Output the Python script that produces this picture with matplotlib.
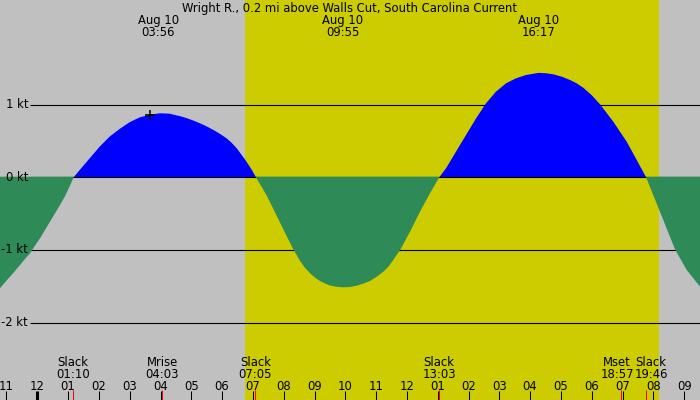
import matplotlib
matplotlib.use("Agg")
import matplotlib.pyplot as plt
import numpy as np
from matplotlib import font_manager
from matplotlib.transforms import blended_transform_factory

# ---------------- data ----------------
title = "Wright R., 0.2 mi above Walls Cut, South Carolina Current"

# current curve (hours since 00:00 Aug 10, knots)
hours = [-1.211, -1.049, -0.886, -0.724, -0.562, -0.40, -0.237, -0.075, 0.088,
         0.25, 0.412, 0.575, 0.737, 0.90, 1.05, 1.18,
         1.386, 1.711, 2.036, 2.36, 2.685, 3.010, 3.334, 3.659, 3.984, 4.308,
         4.416, 4.63, 4.851, 5.065, 5.282, 5.50, 5.714, 5.93, 6.149, 6.31,
         6.474, 6.744, 6.961, 7.10,
         7.448, 7.773, 8.097, 8.292, 8.529, 8.69, 8.854, 9.016, 9.179, 9.34,
         9.503, 9.72, 9.917, 10.15, 10.370, 10.58, 10.802, 11.02, 11.234, 11.40,
         11.558, 11.799, 12.101, 12.425, 12.75, 13.05,
         13.27, 13.594, 13.919, 14.244, 14.568, 14.89, 15.217, 15.542, 15.867,
         16.19, 16.283, 16.54, 16.753, 17.03, 17.295, 17.513, 17.727, 18.0,
         18.270, 18.701, 19.136, 19.461, 19.767,
         20.217, 20.704, 21.084, 21.516]
knots = [-1.527, -1.445, -1.368, -1.289, -1.207, -1.124, -1.046, -0.941, -0.840,
         -0.725, -0.611, -0.496, -0.381, -0.260, -0.125, 0.0,
         0.105, 0.266, 0.427, 0.564, 0.669, 0.761, 0.826, 0.861, 0.881, 0.875,
         0.862, 0.842, 0.814, 0.781, 0.743, 0.700, 0.652, 0.598, 0.535, 0.475,
         0.400, 0.245, 0.105, 0.0,
         -0.250, -0.530, -0.810, -0.975, -1.150, -1.245, -1.320, -1.380, -1.427, -1.462,
         -1.489, -1.507, -1.514, -1.510, -1.492, -1.464, -1.427, -1.368, -1.299, -1.230,
         -1.138, -0.987, -0.749, -0.473, -0.220, 0.0,
         0.124, 0.353, 0.582, 0.810, 1.018, 1.178, 1.293, 1.362, 1.408,
         1.431, 1.437, 1.431, 1.417, 1.384, 1.339, 1.293, 1.232, 1.130,
         1.005, 0.765, 0.490, 0.238, 0.0,
         -0.475, -0.991, -1.276, -1.505]

# max/min current labels at top
peak_hours = [3.933, 9.917, 16.283]
peak_dates = ["Aug 10", "Aug 10", "Aug 10"]
peak_times = ["03:56", "09:55", "16:17"]

# events along the bottom
event_hours = [1.167, 4.05, 7.083, 13.05, 18.95, 19.767]
event_names = ["Slack", "Mrise", "Slack", "Slack", "Mset", "Slack"]
event_times = ["01:10", "04:03", "07:05", "13:03", "18:57", "19:46"]
event_label_hours = [1.167, 4.05, 7.083, 13.05, 18.82, 19.93]

# daylight
sunrise, sunset = 6.744, 20.185

# y grid levels
levels = [1, 0, -1, -2]
level_labels = ["1 kt", "0 kt", "-1 kt", "-2 kt"]

# hour ticks
tick_hours = list(range(-1, 22))
tick_labels = ["%02d" % (((h % 12) or 12)) for h in tick_hours]

marker_hour, marker_knots = 3.66, 0.861

# ---------------- styling ----------------
GRAY = "#c0c0c0"
YELLOW = "#cccc00"
BLUE = "#0000ff"
GREEN = "#2e8b57"

cond = None
for f in font_manager.fontManager.ttflist:
    if "DejaVu" in f.name and "Sans" in f.name and "Mono" not in f.name and \
       ("ondensed" in f.fname or "condensed" in str(f.stretch)) and \
       f.weight in (400, "normal", "regular") and f.style == "normal":
        cond = f.fname
        break
if cond:
    FP = font_manager.FontProperties(fname=cond, size=9.3)
else:
    FP = font_manager.FontProperties(family="DejaVu Sans", size=8)

W, H = 700, 400
XMIN, XMAX = -1.211, 21.516
fig = plt.figure(figsize=(7, 4), dpi=100)
ax = fig.add_axes([0, 0, 1, 1])
ax.set_xlim(XMIN, XMAX)
ax.set_ylim(-3.065, 2.44)
ax.axis("off")
ax.add_patch(plt.Rectangle((0, 0), 1, 1, transform=ax.transAxes, color=GRAY, zorder=0))
ax.axvspan(sunrise, sunset, color=YELLOW, zorder=0.5, lw=0)

t = np.array(hours)
v = np.array(knots)

x_start = XMIN + 30 / W * (XMAX - XMIN)
for lv in levels:
    if lv != 0:
        ax.hlines(lv, x_start, XMAX, color="black", lw=0.8, zorder=1)

ax.fill_between(t, 0, v, where=v >= 0, interpolate=True, color=BLUE, lw=0, zorder=2)
ax.hlines(0, x_start, XMAX, color="black", lw=0.8, zorder=3)
ax.fill_between(t, 0.008, v, where=v <= 0.008, interpolate=True, color=GREEN, lw=0, zorder=4)

ax.plot([marker_hour], [marker_knots], marker="+", ms=7, mew=1.1, color="black", zorder=6)

tr = blended_transform_factory(ax.transData, ax.transAxes)
def ypx(p):
    return 1 - p / H

xl = XMIN + 28 / W * (XMAX - XMIN)
for lv, lab in zip(levels, level_labels):
    ax.text(xl, lv, lab, ha="right", va="center", fontproperties=FP, color="black", zorder=7)

ax.text(0.5, ypx(11.7), title, transform=ax.transAxes, ha="center", va="baseline",
        fontproperties=FP, color="black", zorder=7)
for h, d, tm in zip(peak_hours, peak_dates, peak_times):
    ax.text(h, ypx(35.7), d + "\n" + tm, transform=tr, ha="center", va="baseline",
            multialignment="center", linespacing=0.9, fontproperties=FP, zorder=7)

for h, n, tm in zip(event_label_hours, event_names, event_times):
    ax.text(h, ypx(377.7), n + "\n" + tm, transform=tr, ha="center", va="baseline",
            multialignment="center", linespacing=0.85, fontproperties=FP, zorder=7)

for h, lab in zip(tick_hours, tick_labels):
    ax.text(h, ypx(390), lab, transform=tr, ha="center", va="baseline", fontproperties=FP, zorder=7)
    lw = 2.2 if h % 24 == 0 else 0.75
    ax.vlines(h, 0, 9 / H, transform=tr, color="black", lw=lw, zorder=7)

for h in event_hours:
    ax.vlines(h, 0, 10 / H, transform=tr, color="red", lw=0.75, zorder=8)

fig.savefig("out.png", dpi=100)
